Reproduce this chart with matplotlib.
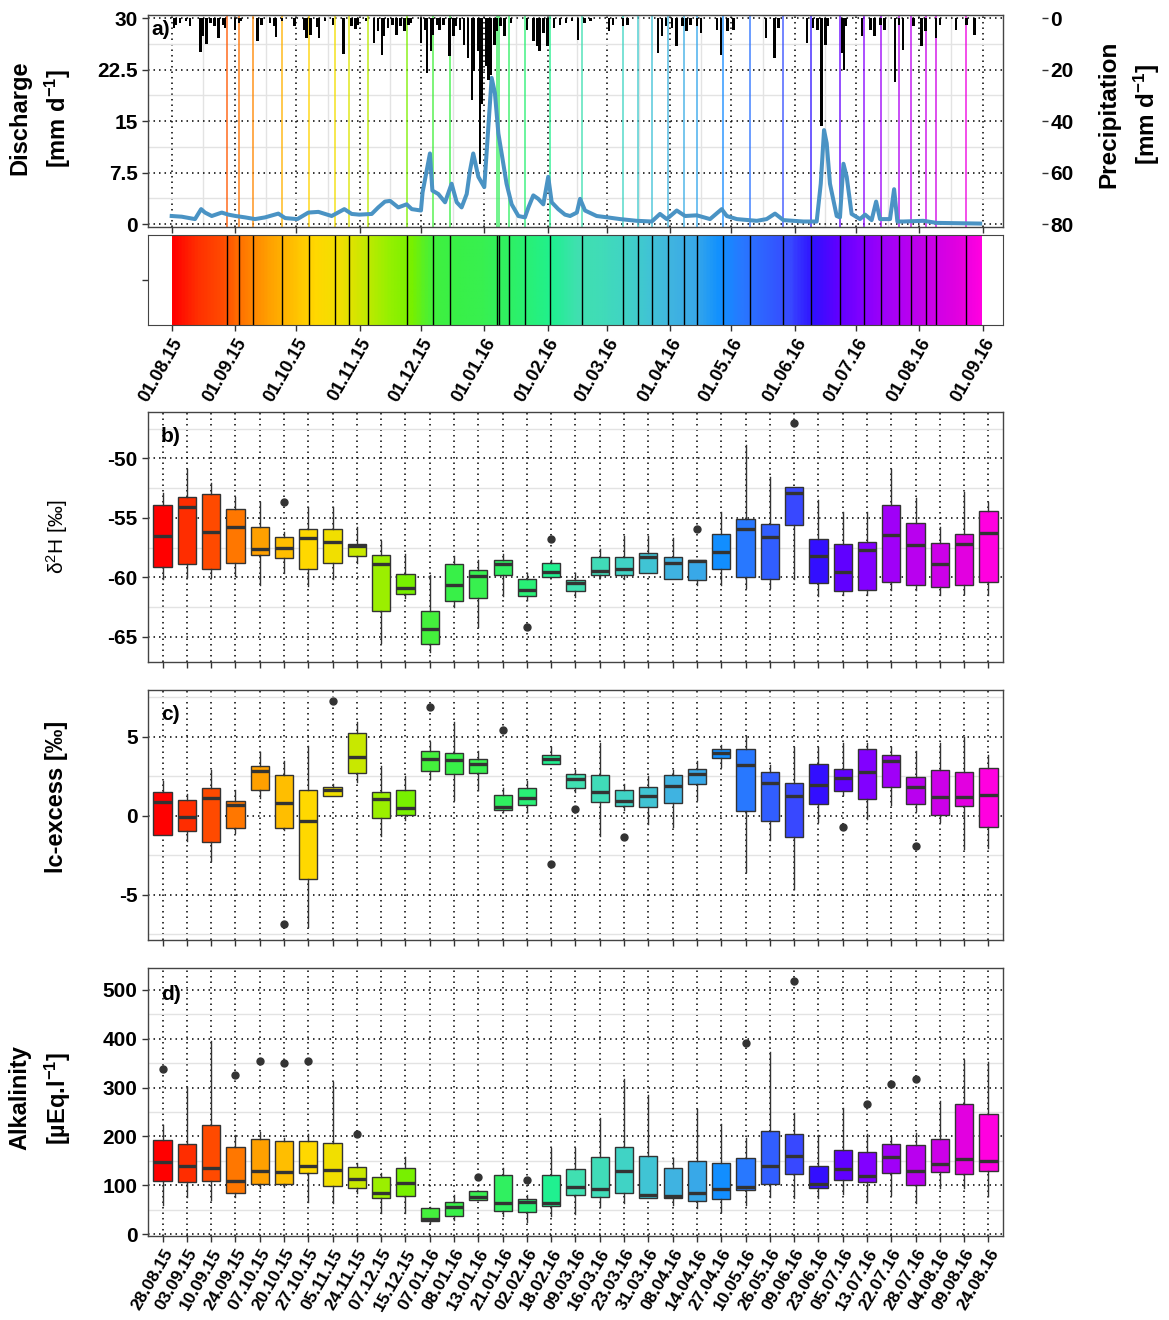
import numpy as np
import pandas as pd
import matplotlib
matplotlib.use('Agg')
import matplotlib.pyplot as plt
import matplotlib.dates as mdates
from matplotlib.colors import LinearSegmentedColormap
from matplotlib.ticker import MultipleLocator, FixedLocator

plt.rcParams['font.family'] = ['Liberation Sans', 'DejaVu Sans']
plt.rcParams['mathtext.fontset'] = 'custom'
plt.rcParams['mathtext.rm'] = 'Liberation Sans'
plt.rcParams['mathtext.bf'] = 'Liberation Sans:bold'
plt.rcParams['mathtext.it'] = 'Liberation Sans:italic'

# sampling campaigns
sample_dates = ['2015-08-28', '2015-09-03', '2015-09-10', '2015-09-24', '2015-10-07', '2015-10-20',
                '2015-10-27', '2015-11-05', '2015-11-24', '2015-12-07', '2015-12-15', '2016-01-07',
                '2016-01-08', '2016-01-13', '2016-01-21', '2016-02-02', '2016-02-18', '2016-03-09',
                '2016-03-16', '2016-03-23', '2016-03-31', '2016-04-08', '2016-04-14', '2016-04-27',
                '2016-05-10', '2016-05-26', '2016-06-09', '2016-06-23', '2016-07-05', '2016-07-13',
                '2016-07-22', '2016-07-28', '2016-08-04', '2016-08-09', '2016-08-24']
box_labels = [pd.Timestamp(d).strftime('%d.%m.%y') for d in sample_dates]

palette = ['#FF0000', '#FF3000', '#FF4A00', '#FF7A00', '#FFA000', '#FFC000', '#FFD800', '#F0E000',
           '#C8E800', '#98F000', '#78F000', '#40F040', '#38F048', '#38F050', '#30F060', '#28F078',
           '#20F090', '#40E0B0', '#40DCB8', '#40D4C4', '#40C4D4', '#40B4E0', '#38A8E8', '#1090FF',
           '#2878FF', '#3060FF', '#3848FF', '#3010FF', '#6000FF', '#8000FF', '#A000F8', '#B800F0',
           '#CC00E8', '#E000E0', '#FF00E0']
cmap = LinearSegmentedColormap.from_list('ramp', palette)

# discharge (days after 01.08.15, mm/d)
q_day = [0, 4.9, 11.4, 14.4, 16.3, 19.6, 24.5, 27.7, 31.3, 35.9, 40.8, 45.7, 52.2, 55.5, 61.5, 66.9,
         71.8, 78.3, 84.5, 88.1, 91.8, 97.9, 101.1, 104.4, 106.9, 110.9, 115, 117.5, 122, 122.8, 126.4,
         127.6, 130.5, 133.8, 137, 139.5, 141.9, 144.4, 146, 147.6, 150.1, 153, 155, 156.6, 158.2, 159.9,
         161.5, 163.9, 166.4, 169.7, 172.9, 174.6, 177, 179.4, 181.9, 184.3, 186, 189.2, 192.5, 195,
         198.3, 199.9, 202.3, 208, 213.3, 219.5, 227.6, 235, 239, 242.3, 247.2, 251.3, 257, 263.5, 269.2,
         271.7, 276.6, 286.4, 291.2, 295.3, 299.4, 309.2, 315.7, 317.7, 319.3, 320.6, 322.2, 325.5,
         327.1, 328.8, 330.4, 332.8, 336.9, 339.4, 342.6, 344.8, 346.7, 351.6, 353.6, 355.2, 358.1,
         367.9, 374.4, 395.7]
q_val = [1.2, 1.1, 0.75, 2.2, 1.7, 1.2, 1.7, 1.4, 1.2, 1.0, 0.75, 1.0, 1.55, 0.9, 0.75, 1.7,
         1.8, 1.2, 2.2, 1.5, 1.4, 1.5, 2.45, 3.3, 3.4, 2.45, 2.9, 2.2, 2.0, 4.65, 10.3,
         4.9, 4.4, 3.2, 5.9, 3.2, 2.45, 4.4, 7.8, 10.3, 6.9, 5.4, 14.2, 21.3, 19.1, 13.2,
         10.3, 5.9, 2.9, 1.2, 1.0, 2.45, 4.2, 3.7, 2.9, 6.9, 3.2, 2.2, 1.4, 1.2,
         1.7, 3.7, 2.0, 1.2, 1.0, 0.75, 0.5, 0.4, 1.5, 0.75, 2.0, 1.2, 1.3, 0.75, 2.2,
         1.2, 0.75, 0.5, 0.75, 1.55, 0.6, 0.4, 0.4, 5.9, 13.7, 11.8, 5.9, 1.2,
         1.0, 8.8, 6.9, 1.5, 0.75, 1.4, 0.6, 3.3, 0.75, 0.75, 5.1, 0.4, 0.4,
         0.5, 0.2, 0.1]

# precipitation (days after 01.08.15, mm/d)
p_day = [1, 2, 4, 7, 9, 14, 15, 17, 19, 21, 23, 25, 26, 31, 33, 34, 42, 44, 48, 50, 51, 54, 60, 65,
         66, 68, 71, 72, 75, 79, 84, 88, 90, 91, 95, 99, 101, 103, 104, 106, 108, 110, 112, 114, 116,
         117, 122, 124, 125, 127, 128, 130, 131, 133, 136, 138, 139, 141, 143, 145, 147, 148, 150, 151,
         152, 154, 155, 156, 158, 159, 161, 163, 166, 174, 177, 179, 180, 182, 184, 187, 190, 193, 196,
         199, 202, 205, 214, 216, 221, 223, 238, 240, 242, 245, 247, 250, 252, 254, 257, 259, 267, 269,
         272, 275, 291, 295, 297, 311, 314, 316, 318, 320, 321, 328, 329, 330, 338, 342, 344, 347, 349,
         354, 356, 358, 363, 367, 369, 374, 376, 384, 389, 393]
p_val = [3.9, 2.6, 2.0, 1.3, 3.2, 13.2, 7.1, 10.0, 2.0, 3.2, 7.7, 2.6, 3.9, 4.5, 2.0, 1.3, 8.8, 2.6,
         2.0, 3.2, 7.5, 1.3, 3.2, 4.5, 7.7, 6.5, 3.6, 7.7, 1.3, 2.6, 13.8, 3.2, 4.1, 2.6, 1.3, 9.7, 5.2,
         14.2, 7.1, 3.9, 2.6, 6.7, 3.2, 5.2, 2.6, 2.0, 9.7, 4.5, 21.3, 12.9, 6.5, 2.6, 4.5, 2.6, 14.6,
         7.1, 3.2, 4.5, 10.3, 15.5, 31.6, 20.6, 12.9, 56.8, 33.5, 18.7, 23.9, 21.9, 10.3, 5.2, 3.2, 7.1,
         2.0, 4.5, 8.8, 11.0, 12.6, 5.8, 11.0, 3.9, 2.6, 2.0, 1.3, 8.4, 2.0, 1.3, 5.2, 2.6, 3.2, 2.6,
         13.5, 7.1, 3.2, 3.9, 11.0, 3.2, 5.2, 2.6, 3.2, 5.8, 4.5, 14.2, 5.2, 4.5, 7.7, 15.5, 3.9, 9.7,
         3.9, 4.5, 41.9, 10.3, 3.2, 13.5, 20.0, 3.2, 7.1, 4.5, 7.1, 2.6, 4.5, 24.8, 2.6, 12.3, 3.2,
         11.0, 5.2, 7.7, 2.6, 4.5, 2.6, 6.5]

# b) d2H boxplots
dH_lo = [-60.1, -59.95, -59.95, -59.85, -60.6, -59.6, -60.7, -60.1, -58.75, -65.5, -61.75, -66.25,
         -62.45, -64.2, -61.55, -61.9, -59.95, -61.6, -59.95, -60.1, -59.6, -60.15, -60.65, -60.6,
         -60.9, -60.9, -60.1, -61.55, -61.45, -61.5, -61.05, -61.05, -61.45, -61.35, -61.45]
dH_q1 = [-59.1, -58.9, -59.3, -58.8, -58.1, -58.4, -59.3, -58.8, -58.2, -62.8, -61.35, -65.55,
         -61.95, -61.75, -59.8, -61.55, -59.95, -61.15, -59.8, -59.8, -59.6, -60.15, -60.2, -59.3,
         -59.95, -60.15, -55.6, -60.45, -61.15, -61.05, -60.35, -60.6, -60.8, -60.6, -60.35]
dH_med = [-56.5, -54.1, -56.2, -55.8, -57.65, -57.5, -56.7, -57.0, -57.35, -58.9, -60.9, -64.35,
          -60.65, -59.85, -58.9, -61.05, -59.55, -60.5, -59.45, -59.25, -58.25, -58.75, -58.6, -57.85,
          -55.9, -56.6, -52.9, -58.2, -59.55, -57.7, -56.4, -57.3, -58.85, -57.15, -56.3]
dH_q3 = [-53.95, -53.25, -52.95, -54.25, -55.75, -56.6, -55.9, -55.9, -57.2, -58.1, -59.7, -62.8,
         -58.9, -59.4, -58.5, -60.15, -58.8, -60.2, -58.25, -58.25, -57.95, -58.3, -58.5, -56.35,
         -55.1, -55.55, -52.4, -56.75, -57.15, -57.05, -53.95, -55.45, -57.1, -56.35, -54.45]
dH_hi = [-52.9, -50.9, -52.1, -53.2, -53.7, -56.2, -54.1, -54.1, -55.75, -56.95, -58.05, -59.8,
         -58.2, -58.55, -58.05, -59.65, -58.55, -59.65, -57.65, -56.5, -56.5, -56.7, -58.5, -54.5,
         -48.9, -51.6, -52.4, -53.5, -54.5, -54.5, -50.9, -53.3, -55.75, -52.8, -53.65]
dH_out = {6: [-53.65], 16: [-64.15], 17: [-56.8], 23: [-55.9], 27: [-47.05]}

# c) lc-excess boxplots
lc_lo = [-1.22, -1.6, -2.85, -1.1, 1.1, -0.9, -7.05, 1.28, 2.15, -1.26, -0.27, 2.3, 0.97, 1.6, 0.25,
         0.25, 3.25, 1.5, -1.26, 0.36, -0.55, -0.7, 0.99, 3.1, -3.58, -1.54, -4.63, -0.38, 1.3, -0.21,
         0.67, 0.3, -0.38, -2.1, -2.06]
lc_q1 = [-1.22, -0.97, -1.66, -0.8, 1.65, -0.76, -4.0, 1.28, 2.7, -0.17, 0.08, 2.8, 2.65, 2.7, 0.36,
         0.67, 3.25, 1.73, 0.88, 0.61, 0.53, 0.82, 2.04, 3.66, 0.3, -0.32, -1.37, 0.76, 1.58, 1.05,
         1.83, 0.76, 0.08, 0.61, -0.7]
lc_med = [0.88, -0.1, 1.1, 0.67, 2.8, 0.82, -0.34, 1.6, 3.7, 1.03, 0.5, 3.6, 3.5, 3.3, 0.57,
          1.1, 3.6, 2.33, 1.52, 0.95, 1.26, 1.9, 2.63, 3.94, 3.24, 2.08, 1.26, 1.94, 2.36, 2.74,
          3.45, 1.79, 1.18, 1.18, 1.3]
lc_q3 = [1.5, 1.0, 1.75, 0.93, 3.15, 2.55, 1.6, 1.83, 5.25, 1.5, 1.66, 4.1, 4.0, 3.6, 1.3,
         1.73, 3.83, 2.67, 2.57, 1.6, 1.83, 2.57, 2.95, 4.25, 4.25, 2.74, 2.1, 3.26, 2.97, 4.19,
         3.87, 2.44, 2.88, 2.74, 3.05]
lc_hi = [2.2, 1.4, 2.9, 1.65, 4.05, 3.45, 4.4, 2.0, 5.9, 3.15, 2.5, 4.65, 5.9, 4.1, 1.77,
         2.2, 4.35, 2.9, 4.63, 2.04, 2.5, 2.9, 3.45, 4.46, 5.05, 3.2, 4.35, 4.35, 4.63, 4.63,
         4.35, 4.1, 4.63, 5.0, 3.83]
lc_out = {6: [-6.85], 8: [7.25], 12: [6.9], 15: [5.4], 17: [-3.05], 18: [0.46], 20: [-1.37],
          29: [-0.7], 32: [-1.9]}

# d) alkalinity boxplots
alk_lo = [60, 76, 70, 76, 95, 97, 65, 63, 85, 43, 43, 22, 29, 69, 36, 25, 36, 41, 55, 63, 74, 60,
          53, 46, 60, 76, 74, 74, 82, 65, 80, 63, 95, 95, 77]
alk_q1 = [108, 106, 108, 85, 103, 103, 125, 99, 95, 74, 77, 26, 36, 69, 48, 46, 57, 79, 76, 85, 74,
          74, 67, 72, 91, 103, 123, 95, 110, 106, 125, 100, 128, 123, 130]
alk_med = [147, 140, 135, 108, 130, 127, 140, 132, 112, 84, 104, 31, 55, 76, 63, 65, 63, 97, 93, 130,
           80, 77, 85, 93, 97, 140, 159, 103, 133, 119, 157, 130, 144, 154, 150]
alk_q3 = [193, 184, 224, 179, 195, 190, 190, 187, 137, 117, 136, 53, 65, 89, 121, 72, 121, 134, 157,
          179, 160, 136, 150, 145, 155, 212, 204, 140, 172, 169, 184, 183, 195, 266, 246]
alk_hi = [224, 302, 396, 202, 210, 196, 205, 312, 145, 126, 157, 55, 80, 89, 136, 80, 176, 177, 237,
          318, 284, 155, 256, 225, 196, 372, 247, 203, 258, 204, 198, 207, 273, 357, 353]
alk_out = {1: [339], 4: [326], 5: [354], 6: [350], 7: [354], 9: [204], 14: [117], 16: [111],
           25: [391], 27: [519], 30: [266], 31: [307], 32: [317]}

n = len(sample_dates)
box_colors = [cmap(i / (n - 1)) for i in range(n)]
t0 = pd.Timestamp('2015-08-01')
t1 = pd.Timestamp('2016-08-31')
samp_num = mdates.date2num(pd.to_datetime(sample_dates))
span0, span1 = mdates.date2num(t0), mdates.date2num(t1)
line_colors = [cmap((s - span0) / (span1 - span0)) for s in samp_num]
q_num = span0 + np.array(q_day)
p_num = span0 + np.array(p_day)
month_starts = pd.date_range('2015-08-01', '2016-09-01', freq='MS')
month_num = mdates.date2num(month_starts)
mid_num = (month_num[:-1] + month_num[1:]) / 2
xmin_date = span0 - 11.6
xmax_date = mdates.date2num(pd.Timestamp('2016-09-01')) + 9.9

dot = (0, (1, 2.6))
edge = '#333333'
fig = plt.figure(figsize=(11.69, 13.2), dpi=100)
W = 1169.0
H = 1320.0


def frame(top, bottom):
    return [148 / W, 1 - bottom / H, 855 / W, (bottom - top) / H]


def style(ax):
    for s in ax.spines.values():
        s.set_color('#444444')
        s.set_linewidth(1.0)
    ax.tick_params(which='major', length=4, width=1, color='#333333')
    ax.tick_params(which='minor', length=0)
    ax.grid(which='major', color='black', linestyle=dot, linewidth=1.1)
    ax.grid(which='minor', color='#E3E3E3', linestyle='-', linewidth=1.0)
    ax.set_axisbelow(True)


# ---- a) discharge and precipitation
ax = fig.add_axes(frame(15, 227))
style(ax)
ax.vlines(samp_num, -0.4, 30.45, colors=line_colors, linewidth=1.3, alpha=0.75, zorder=1.5)
ax.plot(q_num, q_val, color='#4A93C4', linewidth=2.9, zorder=3)
ax.set_xlim(xmin_date, xmax_date)
ax.set_ylim(-0.4, 30.45)
ax.set_yticks([0, 7.5, 15, 22.5, 30])
ax.set_yticklabels(['0', '7.5', '15', '22.5', '30'], fontsize=15, fontweight='bold')
ax.yaxis.set_minor_locator(MultipleLocator(3.75))
ax.set_xticks(month_num)
ax.set_xticklabels([])
ax.xaxis.set_minor_locator(FixedLocator(mid_num))
ax.text(0.004, 0.975, 'a)', transform=ax.transAxes, fontsize=15, fontweight='bold', va='top', ha='left')

ax2 = ax.twinx()
ax2.bar(p_num, p_val, width=1.2, color='black', align='center', zorder=2)
ax2.set_ylim(81.07, -1.2)
ax2.set_yticks([0, 20, 40, 60, 80])
for s in ax2.spines.values():
    s.set_visible(False)
ax2.spines['right'].set_position(('outward', 28))
ax2.tick_params(axis='y', length=4, width=1, color='#333333', pad=2, labelsize=15)
for lbl in ax2.get_yticklabels():
    lbl.set_fontweight('bold')

fig.text(41 / W, 1 - 118 / H, 'Discharge\n[mm d$^{\\mathbf{-1}}$]', rotation=90, ha='center', va='center',
         fontsize=17, fontweight='bold', linespacing=1.5, multialignment='center')
fig.text(1130 / W, 1 - 114 / H, 'Precipitation\n[mm d$^{\\mathbf{-1}}$]', rotation=90, ha='center',
         va='center', fontsize=17.5, fontweight='bold', linespacing=1.5, multialignment='center')

# ---- colour strip with sampling dates
axc = fig.add_axes(frame(235, 325))
for s in axc.spines.values():
    s.set_color('#444444')
grad = np.linspace(0, 1, 500).reshape(1, -1)
axc.imshow(grad, cmap=cmap, aspect='auto', interpolation='bilinear', extent=[span0, span1, 0, 1])
axc.vlines(samp_num, 0, 1, colors='black', linewidth=1.0)
axc.set_xlim(xmin_date, xmax_date)
axc.set_ylim(0, 1)
axc.set_yticks([0.5])
axc.set_yticklabels([])
axc.set_xticks(month_num)
axc.set_xticklabels([d.strftime('%d.%m.%y') for d in month_starts], rotation=60, ha='right',
                    rotation_mode='anchor', fontsize=13, fontweight='bold')
axc.tick_params(length=4, width=1, color='#333333')

# ---- boxplot panels
pos = np.arange(1, n + 1)


def box_panel(top, bottom, lo, q1, med, q3, hi, out, ylim, major, minor_step, tag):
    axb = fig.add_axes(frame(top, bottom))
    style(axb)
    stats = []
    for i in range(n):
        stats.append(dict(whislo=lo[i], q1=q1[i], med=med[i], q3=q3[i], whishi=hi[i],
                          fliers=out.get(i + 1, [])))
    bp = axb.bxp(stats, positions=pos, widths=0.75, patch_artist=True, showcaps=False,
                 boxprops=dict(edgecolor=edge, linewidth=1.0),
                 medianprops=dict(color=edge, linewidth=2.4),
                 whiskerprops=dict(color=edge, linewidth=1.0),
                 flierprops=dict(marker='o', markerfacecolor=edge, markeredgecolor=edge, markersize=5))
    for patch, c in zip(bp['boxes'], box_colors):
        patch.set_facecolor(c)
    axb.set_xlim(0.4, n + 0.6)
    axb.set_ylim(*ylim)
    axb.set_yticks(major)
    axb.set_yticklabels([('%g' % v) for v in major], fontsize=15, fontweight='bold')
    axb.yaxis.set_minor_locator(MultipleLocator(minor_step))
    axb.set_xticks(pos)
    axb.set_xticklabels([])
    axb.text(0.015, 0.9, tag, transform=axb.transAxes, fontsize=15, fontweight='bold', va='center')
    return axb


axb = box_panel(412, 662, dH_lo, dH_q1, dH_med, dH_q3, dH_hi, dH_out, (-67.1, -46.1),
                [-65, -60, -55, -50], 2.5, 'b)')
fig.text(57 / W, 1 - 537 / H, 'δ$^{2}$H [‰]', rotation=90, ha='center', va='center', fontsize=15)

axcx = box_panel(690, 940, lc_lo, lc_q1, lc_med, lc_q3, lc_hi, lc_out, (-7.85, 7.95),
                 [-5, 0, 5], 2.5, 'c)')
fig.text(57 / W, 1 - 797 / H, 'lc-excess [‰]', rotation=90, ha='center', va='center', fontsize=17,
         fontweight='bold')

axd = box_panel(968, 1236, alk_lo, alk_q1, alk_med, alk_q3, alk_hi, alk_out, (-4, 545),
                [0, 100, 200, 300, 400, 500], 50, 'd)')
axd.set_xticklabels(box_labels, rotation=60, ha='right', rotation_mode='anchor', fontsize=12.5,
                    fontweight='bold')
fig.text(41 / W, 1 - 1098 / H, 'Alkalinity\n[µEq.l$^{\\mathbf{-1}}$]', rotation=90, ha='center',
         va='center', fontsize=17, fontweight='bold', linespacing=1.5, multialignment='center')

plt.savefig('out.png', dpi=100)
